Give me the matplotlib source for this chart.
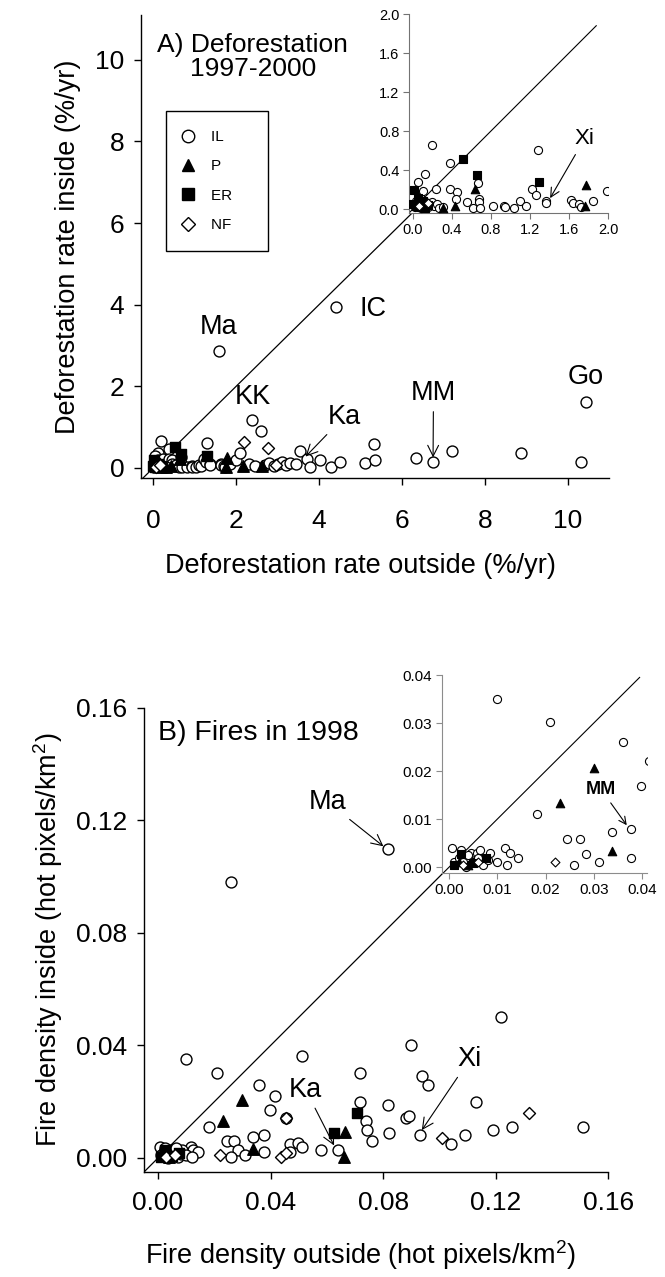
import matplotlib
matplotlib.use('Agg')
import matplotlib.pyplot as plt
from matplotlib.lines import Line2D

plt.rcParams['font.family'] = ['Liberation Sans', 'DejaVu Sans']
plt.rcParams['mathtext.fontset'] = 'custom'
plt.rcParams['mathtext.rm'] = 'Liberation Sans'
plt.rcParams['mathtext.it'] = 'Liberation Sans:italic'

# ---- A) deforestation rates 1997-2000 (%/yr), outside vs inside ----
a_il_x = [0.02, 0.05, 0.08, 0.10, 0.12, 0.15, 0.18, 0.20, 0.22, 0.25, 0.03, 0.07,
          0.27, 0.195, 0.12, 0.05, 0.10, 0.24, 0.38, 0.376, 0.45, 0.44, 0.55, 0.667,
          0.677, 0.68, 0.62, 0.69, 0.82, 0.93, 0.94, 1.04, 1.10, 1.16, 1.22, 1.26,
          1.285, 1.36, 1.37, 1.62, 1.64, 1.70, 1.72, 1.85, 1.99, 0.31, 1.59,
          2.10, 2.38, 2.60, 2.30, 2.45, 2.70, 2.80, 2.90, 3.00, 3.10, 3.20, 3.30,
          3.45, 3.55, 3.71, 3.79, 4.03, 4.28, 4.50, 4.40, 5.10, 5.34, 5.32, 6.33,
          6.75, 7.21, 8.88, 10.31, 10.43]
a_il_y = [0.02, 0.05, 0.01, 0.03, 0.06, 0.02, 0.04, 0.07, 0.03, 0.05, 0.08, 0.12,
          0.01, 0.656, 0.36, 0.28, 0.19, 0.205, 0.47, 0.205, 0.18, 0.10, 0.07, 0.27,
          0.10, 0.07, 0.007, 0.007, 0.03, 0.034, 0.02, 0.014, 0.08, 0.034, 0.205, 0.14,
          0.605, 0.085, 0.06, 0.096, 0.06, 0.05, 0.017, 0.085, 0.185, 0.017, 2.86,
          0.37, 1.17, 0.91, 0.10, 0.05, 0.08, 0.12, 0.05, 0.10, 0.15, 0.08, 0.12,
          0.10, 0.42, 0.22, 0.03, 0.20, 0.03, 0.15, 3.94, 0.12, 0.20, 0.59, 0.25,
          0.13, 0.42, 0.37, 0.15, 1.62]
a_p_x = [0.64, 1.77, 1.76, 0.43, 0.31, 2.17, 2.63]
a_p_y = [0.205, 0.246, 0.027, 0.034, 0.01, 0.05, 0.05]
a_er_x = [0.51, 0.656, 1.29, 0.007, 0.05, 0.10, 0.03, 0.08, 0.0, 0.12, 0.15]
a_er_y = [0.51, 0.35, 0.28, 0.195, 0.11, 0.085, 0.03, 0.02, 0.05, 0.01, 0.04]
a_nf_x = [2.18, 2.76, 0.06, 0.15, 2.95]
a_nf_y = [0.64, 0.48, 0.03, 0.06, 0.08]

# ---- B) fire density 1998 (hot pixels/km2), outside vs inside ----
b_il_x = [0.0099, 0.0209, 0.051, 0.036, 0.0415, 0.0398, 0.0454, 0.0182, 0.0245, 0.0271,
          0.0283, 0.026, 0.031, 0.0337, 0.0377, 0.0377, 0.047, 0.0496, 0.051, 0.047,
          0.058, 0.064, 0.0717, 0.0718, 0.074, 0.0742, 0.076, 0.0819, 0.082, 0.122,
          0.090, 0.0939, 0.096, 0.088, 0.0892, 0.093, 0.104, 0.109, 0.113, 0.119,
          0.126, 0.151, 0.026, 0.0816,
          0.0116, 0.0126, 0.0085, 0.0045, 0.0057, 0.0143, 0.0006,
          0.001, 0.002, 0.003, 0.004, 0.005, 0.006, 0.007, 0.008, 0.0025, 0.010,
          0.012, 0.0035, 0.0065]
b_il_y = [0.0351, 0.0303, 0.0363, 0.026, 0.022, 0.017, 0.0141, 0.0111, 0.0059, 0.0059,
          0.0028, 0.0005, 0.001, 0.0073, 0.008, 0.002, 0.005, 0.0054, 0.004, 0.002,
          0.003, 0.0028, 0.0303, 0.020, 0.013, 0.010, 0.0062, 0.019, 0.009, 0.050,
          0.040, 0.0292, 0.026, 0.0141, 0.015, 0.008, 0.005, 0.008, 0.020, 0.010,
          0.011, 0.011, 0.098, 0.110,
          0.004, 0.003, 0.003, 0.003, 0.003, 0.002, 0.004,
          0.001, 0.002, 0.001, 0.0025, 0.001, 0.002, 0.0005, 0.0015, 0.0035, 0.001,
          0.0005, 0.0, 0.0035]
b_p_x = [0.030, 0.023, 0.0338, 0.0664, 0.066, 0.002, 0.004]
b_p_y = [0.0206, 0.0133, 0.0033, 0.0091, 0.0005, 0.001, 0.0005]
b_er_x = [0.0709, 0.0625, 0.0025, 0.0076, 0.001, 0.005]
b_er_y = [0.0161, 0.0088, 0.0027, 0.0019, 0.0005, 0.0008]
b_nf_x = [0.0455, 0.0436, 0.0455, 0.022, 0.1008, 0.132, 0.003, 0.006]
b_nf_y = [0.0143, 0.0003, 0.0018, 0.001, 0.0072, 0.0159, 0.0005, 0.001]

group_names = ['IL', 'P', 'ER', 'NF']
group_style = {'IL': ('o', 'white', 1.0), 'P': ('^', 'black', 1.1),
               'ER': ('s', 'black', 0.85), 'NF': ('D', 'white', 0.6)}

fig = plt.figure(figsize=(6.65, 12.77), dpi=100)
axA = fig.add_axes([0.212, 0.6257, 0.704, 0.3626])
insA = fig.add_axes([0.615, 0.8332, 0.2992, 0.1558])
axB = fig.add_axes([0.2165, 0.0822, 0.698, 0.3634])
insB = fig.add_axes([0.6647, 0.3164, 0.308, 0.155])


def style(ax, size, color='black', lw=1.0, tl=5, pad=7):
    for s in ['top', 'right']:
        ax.spines[s].set_visible(False)
    for s in ['left', 'bottom']:
        ax.spines[s].set_color(color)
        ax.spines[s].set_linewidth(lw)
    ax.tick_params(direction='out', length=tl, width=lw, color=color,
                   labelsize=size, pad=pad)


def draw(ax, data, s, lw):
    for name in group_names:
        x, y = data[name]
        m, fc, k = group_style[name]
        ax.scatter(x, y, s=s * k, marker=m, facecolors=fc, edgecolors='black',
                   linewidths=lw, zorder=3)


data_a = {'IL': (a_il_x, a_il_y), 'P': (a_p_x, a_p_y), 'ER': (a_er_x, a_er_y), 'NF': (a_nf_x, a_nf_y)}
data_b = {'IL': (b_il_x, b_il_y), 'P': (b_p_x, b_p_y), 'ER': (b_er_x, b_er_y), 'NF': (b_nf_x, b_nf_y)}

arrow = dict(arrowstyle='->', color='black', lw=0.8, shrinkA=2, shrinkB=1)

# Panel A main
style(axA, 19)
axA.tick_params(axis='x', pad=17)
axA.set_xlim(-0.3, 11)
axA.set_ylim(-0.25, 11.1)
axA.set_xticks([0, 2, 4, 6, 8, 10])
axA.set_yticks([0, 2, 4, 6, 8, 10])
axA.plot([-0.3, 10.5], [-0.3, 10.5], color='black', lw=0.9, zorder=1)
draw(axA, data_a, 62, 1.0)
axA.set_xlabel('Deforestation rate outside (%/yr)', fontsize=19.5)
axA.xaxis.set_label_coords(0.468, -0.163)
axA.set_ylabel('Deforestation rate inside (%/yr)', fontsize=19.5, labelpad=10)
axA.text(2.4, 10.07, 'A) Deforestation\n1997-2000', ha='center', va='center',
         fontsize=19, linespacing=1.0)
axA.text(1.57, 3.45, 'Ma', ha='center', va='center', fontsize=19.5)
axA.text(5.3, 3.9, 'IC', ha='center', va='center', fontsize=19.5)
axA.text(2.4, 1.74, 'KK', ha='center', va='center', fontsize=19.5)
axA.text(10.43, 2.22, 'Go', ha='center', va='center', fontsize=19.5)
axA.annotate('Ka', xy=(3.65, 0.25), xytext=(4.6, 1.25), ha='center', va='center',
             fontsize=19.5, arrowprops=arrow)
axA.annotate('MM', xy=(6.75, 0.22), xytext=(6.76, 1.83), ha='center', va='center',
             fontsize=19.5, arrowprops=arrow)

handles = [Line2D([], [], marker=group_style[n][0], ls='none',
                  mfc=group_style[n][1], mec='black', mew=1.0,
                  ms=9 if n != 'NF' else 7.5) for n in group_names]
labels = [n + '    ' for n in group_names]
leg = axA.legend(handles, labels, loc='upper left',
                 bbox_to_anchor=(0.2496, 0.9131), bbox_transform=fig.transFigure,
                 frameon=True, fancybox=False, edgecolor='black', framealpha=1,
                 fontsize=11, borderpad=1.25, labelspacing=1.0, handletextpad=1.3,
                 borderaxespad=0, handlelength=0.4)
leg.get_frame().set_linewidth(1.0)

# Panel A inset
style(insA, 10.5, color='0.45', lw=0.8, tl=4, pad=3)
insA.tick_params(labelcolor='black')
insA.set_xlim(-0.04, 2.0)
insA.set_ylim(-0.04, 2.0)
insA.set_xticks([0.0, 0.4, 0.8, 1.2, 1.6, 2.0])
insA.set_yticks([0.0, 0.4, 0.8, 1.2, 1.6, 2.0])
insA.xaxis.set_major_formatter('{x:.1f}')
insA.yaxis.set_major_formatter('{x:.1f}')
insA.plot([-0.04, 1.88], [-0.04, 1.88], color='black', lw=0.8, zorder=1)
draw(insA, data_a, 34, 0.8)
insA.annotate('Xi', xy=(1.40, 0.10), xytext=(1.76, 0.72), ha='center', va='center',
              fontsize=16, arrowprops=arrow)

# Panel B main
style(axB, 19)
axB.tick_params(axis='x', pad=9)
axB.set_xlim(-0.005, 0.16)
axB.set_ylim(-0.005, 0.16)
axB.set_xticks([0.0, 0.04, 0.08, 0.12, 0.16])
axB.set_yticks([0.0, 0.04, 0.08, 0.12, 0.16])
axB.xaxis.set_major_formatter('{x:.2f}')
axB.yaxis.set_major_formatter('{x:.2f}')
axB.plot([-0.005, 0.16], [-0.005, 0.16], color='black', lw=0.9, zorder=1)
draw(axB, data_b, 62, 1.0)
axB.set_xlabel('Fire density outside (hot pixels/km$^2$)', fontsize=19.5)
axB.xaxis.set_label_coords(0.466, -0.143)
axB.set_ylabel('Fire density inside (hot pixels/km$^2$)', fontsize=19.5, labelpad=8)
axB.text(0.0, 0.151, 'B) Fires in 1998', ha='left', va='center', fontsize=20.5)
axB.annotate('Ma', xy=(0.0805, 0.1105), xytext=(0.0603, 0.1266), ha='center',
             va='center', fontsize=19.5, arrowprops=arrow)
axB.annotate('Ka', xy=(0.0628, 0.004), xytext=(0.0525, 0.0242), ha='center',
             va='center', fontsize=19.5, arrowprops=arrow)
axB.annotate('Xi', xy=(0.0935, 0.0095), xytext=(0.1108, 0.0351), ha='center',
             va='center', fontsize=19.5, arrowprops=arrow)

# Panel B inset
style(insB, 11, color='0.55', lw=0.8, tl=4, pad=3)
insB.tick_params(labelcolor='black')
insB.set_xlim(-0.00145, 0.041)
insB.set_ylim(-0.0012, 0.04)
insB.set_xticks([0.0, 0.01, 0.02, 0.03, 0.04])
insB.set_yticks([0.0, 0.01, 0.02, 0.03, 0.04])
insB.xaxis.set_major_formatter('{x:.2f}')
insB.yaxis.set_major_formatter('{x:.2f}')
insB.plot([-0.0012, 0.0395], [-0.0012, 0.0395], color='black', lw=0.8, zorder=1)
draw(insB, data_b, 34, 0.8)
insB.annotate('MM', xy=(0.037, 0.0085), xytext=(0.0315, 0.0162), ha='center',
              va='center', fontsize=13, fontweight='bold', arrowprops=arrow)

fig.savefig('out.png', dpi=100)
